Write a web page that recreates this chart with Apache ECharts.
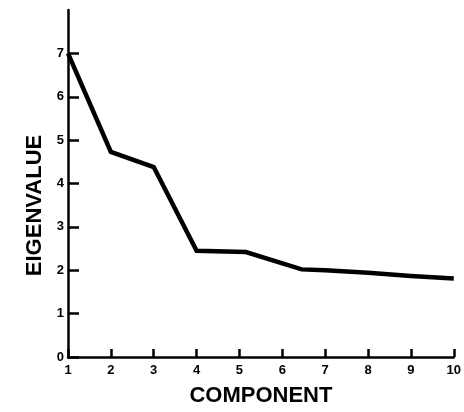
<!DOCTYPE html>
<html>
<head>
<meta charset="utf-8">
<script src="https://cdn.jsdelivr.net/npm/echarts@6/dist/echarts.min.js"></script>
<style>
  html, body { margin: 0; padding: 0; background: #fff; }
  #chart { width: 464px; height: 412px; }
</style>
</head>
<body>
<div id="chart"></div>
<script>
// scree plot: component number vs eigenvalue (hand drawn bends kept)
const components = [1, 2, 3, 4, 5.15, 6.45, 7, 8, 9, 10]
const eigenvalues = [7.0, 4.73, 4.38, 2.45, 2.42, 2.02, 2.0, 1.94, 1.87, 1.81]
const xTicks = [1, 2, 3, 4, 5, 6, 7, 8, 9, 10]
const yTicks = [0, 1, 2, 3, 4, 5, 6, 7]

const font = 'Liberation Sans, Arial, Helvetica, sans-serif'

const chart = echarts.init(document.getElementById('chart'))

const option = {
  animation: false,
  grid: {
    left: 68,
    right: 8,
    top: 10,
    bottom: 55
  },
  xAxis: {
    type: 'value',
    min: 1,
    max: 10,
    interval: 1,
    name: 'COMPONENT',
    nameLocation: 'middle',
    nameGap: 28,
    nameTextStyle: { color: '#000', fontFamily: font, fontWeight: 'bold', fontSize: 22 },
    splitLine: { show: false },
    axisLine: { lineStyle: { color: '#000', width: 2.5 } },
    axisTick: { inside: true, length: 8, customValues: xTicks, lineStyle: { color: '#000', width: 2.5 } },
    axisLabel: {
      customValues: xTicks,
      margin: 7,
      color: '#000',
      fontFamily: font,
      fontWeight: 'bold',
      fontSize: 13
    }
  },
  yAxis: {
    type: 'value',
    min: 0,
    max: 8,
    interval: 1,
    name: 'EIGENVALUE',
    nameLocation: 'middle',
    nameGap: 21,
    nameTextStyle: {
      color: '#000', fontFamily: font, fontWeight: 'bold', fontSize: 22,
      padding: [0, 44, 0, 0]
    },
    splitLine: { show: false },
    axisLine: { show: true, lineStyle: { color: '#000', width: 2.5 } },
    axisTick: { show: true, inside: true, length: 11, customValues: yTicks, lineStyle: { color: '#000', width: 2.5 } },
    axisLabel: {
      customValues: yTicks,
      margin: 4,
      color: '#000',
      fontFamily: font,
      fontWeight: 'bold',
      fontSize: 13
    }
  },
  series: [
    {
      type: 'line',
      data: components.map((c, i) => [c, eigenvalues[i]]),
      showSymbol: false,
      lineStyle: { color: '#000', width: 4.5, join: 'miter' },
      clip: false
    }
  ]
}

chart.setOption(option)
</script>
</body>
</html>
